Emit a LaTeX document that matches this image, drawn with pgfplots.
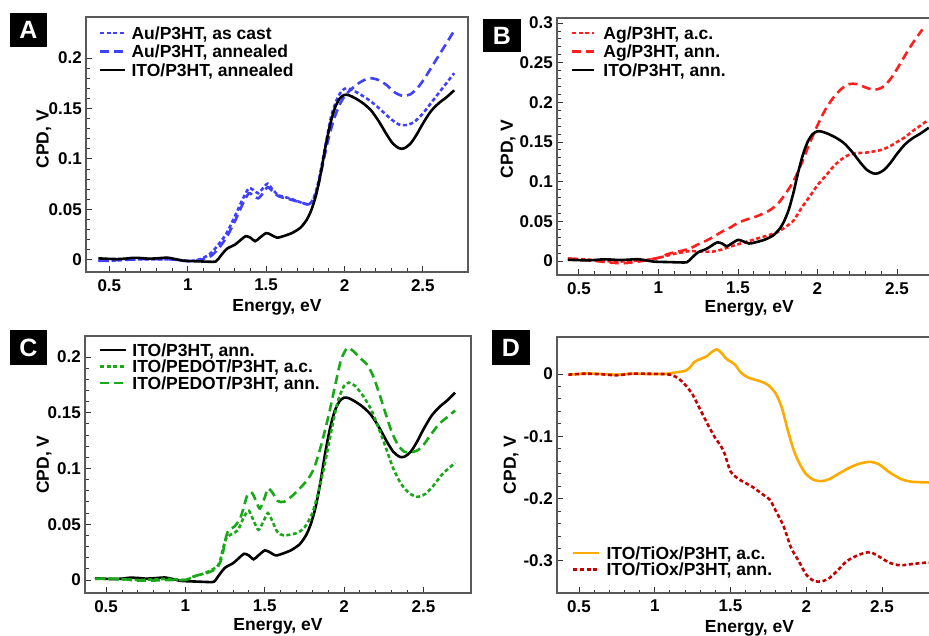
\documentclass[border=0pt]{standalone}
\usepackage{pgfplots}
\pgfplotsset{compat=1.18}
\usepackage{fontspec}
\setmainfont{Liberation Sans}
\definecolor{cblue}{RGB}{64,64,255}
\definecolor{cred}{RGB}{255,30,30}
\definecolor{cgreen}{RGB}{24,168,24}
\definecolor{corange}{RGB}{255,170,0}
\definecolor{cdred}{RGB}{196,0,0}
\definecolor{axgray}{RGB}{90,90,90}

\pgfplotstableread{
E V
0.43 0.0015
0.50 0.0010
0.55 0.0008
0.60 0.0012
0.65 0.0020
0.70 0.0018
0.75 0.0012
0.80 0.0015
0.87 0.0022
0.92 0.0008
0.97 -0.0008
1.02 -0.0012
1.08 -0.0015
1.13 -0.0018
1.18 -0.0015
1.21 0.0040
1.25 0.0110
1.30 0.0150
1.34 0.0200
1.37 0.0235
1.40 0.0220
1.43 0.0185
1.46 0.0220
1.50 0.0265
1.53 0.0250
1.57 0.0220
1.62 0.0240
1.67 0.0270
1.72 0.0320
1.76 0.0400
1.79 0.0500
1.82 0.0650
1.85 0.0870
1.88 0.1130
1.91 0.1350
1.94 0.1510
1.97 0.1600
2.00 0.1635
2.03 0.1630
2.07 0.1600
2.12 0.1550
2.17 0.1480
2.22 0.1370
2.27 0.1240
2.31 0.1150
2.35 0.1105
2.38 0.1105
2.42 0.1150
2.46 0.1240
2.50 0.1350
2.55 0.1470
2.60 0.1550
2.65 0.1610
2.70 0.1680
}\ito

\pgfplotstableread{
E V
0.43 -0.0010
0.50 -0.0008
0.60 0.0000
0.70 0.0005
0.80 0.0005
0.90 0.0005
1.00 -0.0010
1.05 -0.0005
1.10 0.0020
1.15 0.0070
1.20 0.0160
1.25 0.0270
1.30 0.0430
1.35 0.0600
1.39 0.0710
1.42 0.0690
1.45 0.0660
1.48 0.0710
1.51 0.0755
1.54 0.0700
1.58 0.0640
1.65 0.0610
1.72 0.0570
1.77 0.0550
1.80 0.0600
1.83 0.0750
1.86 0.0980
1.89 0.1230
1.92 0.1450
1.96 0.1620
2.00 0.1695
2.04 0.1690
2.10 0.1640
2.15 0.1590
2.20 0.1530
2.25 0.1460
2.30 0.1390
2.35 0.1340
2.39 0.1335
2.44 0.1360
2.50 0.1450
2.56 0.1570
2.63 0.1710
2.70 0.1850
}\auac

\pgfplotstableread{
E V
0.43 -0.0008
0.50 -0.0005
0.60 0.0000
0.70 0.0008
0.80 0.0008
0.90 0.0005
1.00 -0.0012
1.05 -0.0010
1.10 0.0010
1.15 0.0040
1.20 0.0120
1.25 0.0230
1.30 0.0380
1.35 0.0550
1.39 0.0660
1.42 0.0630
1.45 0.0610
1.48 0.0660
1.51 0.0720
1.54 0.0680
1.58 0.0630
1.65 0.0600
1.72 0.0570
1.77 0.0550
1.80 0.0590
1.83 0.0720
1.86 0.0930
1.89 0.1150
1.93 0.1380
1.97 0.1540
2.01 0.1640
2.05 0.1700
2.10 0.1760
2.16 0.1800
2.22 0.1780
2.27 0.1730
2.32 0.1660
2.37 0.1625
2.42 0.1640
2.47 0.1710
2.52 0.1820
2.58 0.1970
2.64 0.2120
2.70 0.2270
}\auann

\pgfplotstableread{
E V
0.43 0.0030
0.50 0.0025
0.60 0.0010
0.70 -0.0005
0.80 -0.0005
0.90 0.0010
0.95 0.0020
1.00 0.0040
1.05 0.0065
1.10 0.0090
1.15 0.0110
1.20 0.0125
1.25 0.0120
1.30 0.0115
1.35 0.0120
1.40 0.0145
1.45 0.0180
1.50 0.0210
1.55 0.0240
1.60 0.0270
1.65 0.0300
1.70 0.0330
1.75 0.0365
1.80 0.0430
1.85 0.0510
1.90 0.0670
1.95 0.0810
2.00 0.0955
2.05 0.1070
2.10 0.1190
2.15 0.1280
2.20 0.1340
2.25 0.1360
2.30 0.1365
2.35 0.1380
2.40 0.1400
2.45 0.1440
2.50 0.1500
2.55 0.1560
2.60 0.1640
2.65 0.1710
2.69 0.1770
}\agac

\pgfplotstableread{
E V
0.43 0.0030
0.50 0.0020
0.60 0.0000
0.70 -0.0020
0.77 -0.0030
0.85 -0.0015
0.90 0.0000
0.95 0.0020
1.00 0.0040
1.05 0.0080
1.10 0.0110
1.15 0.0130
1.20 0.0160
1.25 0.0210
1.30 0.0255
1.35 0.0310
1.40 0.0370
1.45 0.0420
1.50 0.0480
1.55 0.0520
1.60 0.0550
1.65 0.0590
1.70 0.0640
1.75 0.0720
1.80 0.0850
1.85 0.1010
1.90 0.1230
1.95 0.1480
2.00 0.1710
2.05 0.1910
2.10 0.2060
2.15 0.2170
2.20 0.2230
2.25 0.2230
2.30 0.2190
2.35 0.2160
2.40 0.2180
2.45 0.2270
2.50 0.2420
2.55 0.2590
2.60 0.2750
2.66 0.2920
}\agann

\pgfplotstableread{
E V
0.43 0.0010
0.50 0.0010
0.60 0.0005
0.70 0.0000
0.80 0.0005
0.90 0.0010
1.00 0.0000
1.05 0.0030
1.10 0.0050
1.15 0.0080
1.20 0.0120
1.22 0.0180
1.24 0.0300
1.26 0.0380
1.29 0.0410
1.33 0.0445
1.37 0.0570
1.40 0.0620
1.43 0.0530
1.46 0.0450
1.49 0.0520
1.52 0.0600
1.55 0.0520
1.58 0.0430
1.62 0.0400
1.70 0.0420
1.75 0.0470
1.80 0.0600
1.84 0.0800
1.88 0.1050
1.92 0.1340
1.96 0.1600
2.00 0.1740
2.03 0.1770
2.07 0.1740
2.12 0.1650
2.17 0.1530
2.21 0.1390
2.26 0.1200
2.31 0.1000
2.36 0.0860
2.41 0.0780
2.46 0.0745
2.51 0.0770
2.56 0.0840
2.62 0.0950
2.70 0.1050
}\pedac

\pgfplotstableread{
E V
0.43 0.0010
0.50 0.0012
0.60 0.0008
0.70 -0.0005
0.80 -0.0005
0.90 0.0000
1.00 0.0000
1.05 0.0030
1.10 0.0050
1.15 0.0070
1.20 0.0110
1.23 0.0200
1.25 0.0350
1.27 0.0440
1.31 0.0480
1.35 0.0570
1.39 0.0760
1.42 0.0780
1.45 0.0690
1.47 0.0640
1.50 0.0740
1.52 0.0820
1.55 0.0780
1.58 0.0710
1.62 0.0700
1.67 0.0750
1.72 0.0820
1.77 0.0900
1.81 0.1000
1.85 0.1180
1.90 0.1460
1.94 0.1720
1.98 0.1970
2.02 0.2080
2.06 0.2050
2.10 0.1990
2.14 0.1940
2.18 0.1840
2.22 0.1680
2.26 0.1500
2.30 0.1330
2.34 0.1210
2.38 0.1150
2.42 0.1145
2.46 0.1160
2.50 0.1210
2.55 0.1310
2.60 0.1400
2.65 0.1460
2.70 0.1520
}\pedann

\pgfplotstableread{
E V
0.43 -0.0010
0.50 0.0000
0.55 0.0010
0.65 0.0000
0.75 -0.0010
0.85 0.0005
0.95 0.0000
1.05 0.0000
1.10 0.0010
1.15 0.0030
1.20 0.0050
1.23 0.0100
1.26 0.0190
1.30 0.0240
1.34 0.0280
1.38 0.0360
1.41 0.0395
1.44 0.0340
1.47 0.0250
1.50 0.0200
1.53 0.0150
1.57 0.0020
1.62 -0.0060
1.70 -0.0120
1.75 -0.0180
1.80 -0.0320
1.84 -0.0550
1.88 -0.0920
1.92 -0.1240
1.96 -0.1460
2.00 -0.1610
2.05 -0.1700
2.10 -0.1720
2.15 -0.1690
2.20 -0.1620
2.28 -0.1510
2.35 -0.1440
2.42 -0.1410
2.48 -0.1450
2.55 -0.1580
2.63 -0.1690
2.70 -0.1730
2.80 -0.1740
2.90 -0.1750
}\tiac

\pgfplotstableread{
E V
0.43 -0.0010
0.50 0.0000
0.55 0.0005
0.65 -0.0005
0.75 -0.0020
0.85 0.0005
0.95 0.0005
1.05 0.0000
1.10 -0.0010
1.15 -0.0060
1.20 -0.0170
1.25 -0.0330
1.30 -0.0570
1.35 -0.0810
1.40 -0.1030
1.43 -0.1130
1.46 -0.1270
1.50 -0.1560
1.55 -0.1680
1.60 -0.1750
1.65 -0.1820
1.70 -0.1910
1.76 -0.2020
1.80 -0.2200
1.85 -0.2440
1.90 -0.2790
1.95 -0.3000
2.00 -0.3220
2.05 -0.3320
2.10 -0.3330
2.15 -0.3280
2.20 -0.3170
2.27 -0.3000
2.35 -0.2900
2.42 -0.2860
2.48 -0.2930
2.55 -0.3030
2.62 -0.3070
2.70 -0.3050
2.78 -0.3030
2.90 -0.3020
}\tiann

\pgfplotsset{
  panel/.style={
    scale only axis,
    axis line style={draw=axgray, line width=1.3pt},
    tick style={draw=black!80, line width=0.9pt},
    major tick length=6pt, minor tick length=3.5pt,
    tick align=inside,
    tick pos=left,
    xtick={0.5,1,1.5,2,2.5},
    minor x tick num=4,
    /pgf/number format/assume math mode=true,
    /pgf/number format/fixed,
    /pgf/number format/precision=2,
    tick label style={font=\bfseries\fontsize{17}{17}\selectfont},
    yticklabel style={inner sep=0pt, xshift=-4pt},
    xticklabel style={inner sep=0pt, yshift=-7pt},
    label style={font=\bfseries\fontsize{17.5}{17.5}\selectfont},
    xlabel={Energy, eV},
    ylabel={CPD, V},
    legend cell align=left,
    every axis plot/.append style={line width=2.6pt, smooth, tension=0.45},
  },
  dotp/.style={dash pattern=on 4pt off 2.6pt},
  dashp/.style={dash pattern=on 9pt off 5pt},
  legA/.style={legend style={draw=none, fill=none, inner sep=0pt, outer sep=0pt,
      row sep=6pt, column sep=5pt,
      font=\bfseries\fontsize{17.5}{17.5}\selectfont,
      nodes={inner sep=0pt, outer sep=0pt, text height=12.5pt, text depth=0pt}}},
  legC/.style={legend style={draw=none, fill=none, inner sep=0pt, outer sep=0pt,
      row sep=4pt, column sep=5pt,
      font=\bfseries\fontsize{17.5}{17.5}\selectfont,
      nodes={inner sep=0pt, outer sep=0pt, text height=12.5pt, text depth=0pt}}},
}

\begin{document}
\begin{tikzpicture}[x=1pt,y=1pt]
\useasboundingbox (0,0) rectangle (929,635);
\clip (0,0) rectangle (929,635);

% ---------------- Panel A
\begin{axis}[panel, legA,
  at={(86pt,363pt)}, anchor=south west,
  width=382pt, height=255pt,
  xmin=0.351, xmax=2.788, ymin=-0.012, ymax=0.2406,
  ytick={0,0.05,0.1,0.15,0.2}, minor y tick num=4,
  x label style={at={(axis description cs:0.5,0)}, anchor=north, inner sep=0pt, yshift=-27pt},
  y label style={at={(axis description cs:-0.110,0.52)}, anchor=center, inner sep=0pt},
  legend style={at={(axis description cs:0.034,0.962)}, anchor=north west},
  legend image code/.code={\draw[#1] (0pt,0pt) -- (25pt,0pt);},
]
\addplot[cblue, dotp] table[x=E,y=V] {\auac};
\addlegendentry{Au/P3HT, as cast}
\addplot[cblue, dashp] table[x=E,y=V] {\auann};
\addlegendentry{Au/P3HT, annealed}
\addplot[black] table[x=E,y=V] {\ito};
\addlegendentry{ITO/P3HT, annealed}
\end{axis}

% ---------------- Panel B
\begin{axis}[panel, legA,
  at={(557pt,360pt)}, anchor=south west,
  width=384.5pt, height=257pt,
  xmin=0.362, xmax=2.78, ymin=-0.0177, ymax=0.3064,
  ytick={0,0.05,0.1,0.15,0.2,0.25,0.3}, minor y tick num=4,
  x label style={at={(axis description cs:0.5,0)}, anchor=north, inner sep=0pt, yshift=-25pt},
  y label style={at={(axis description cs:-0.127,0.49)}, anchor=center, inner sep=0pt},
  legend style={at={(axis description cs:0.036,0.966)}, anchor=north west, column sep=8pt},
  legend image code/.code={\draw[#1] (0pt,0pt) -- (22pt,0pt);},
]
\addplot[cred, dotp] table[x=E,y=V] {\agac};
\addlegendentry{Ag/P3HT, a.c.}
\addplot[cred, dashp] table[x=E,y=V] {\agann};
\addlegendentry{Ag/P3HT, ann.}
\addplot[black] table[x=E,y=V] {\ito};
\addlegendentry{ITO/P3HT, ann.}
\end{axis}

% ---------------- Panel C
\begin{axis}[panel, legC,
  at={(85pt,42pt)}, anchor=south west,
  width=386pt, height=257pt,
  xmin=0.367, xmax=2.80, ymin=-0.0117, ymax=0.2188,
  ytick={0,0.05,0.1,0.15,0.2}, minor y tick num=4,
  x label style={at={(axis description cs:0.5,0)}, anchor=north, inner sep=0pt, yshift=-25pt},
  y label style={at={(axis description cs:-0.106,0.50)}, anchor=center, inner sep=0pt},
  legend style={at={(axis description cs:0.036,0.970)}, anchor=north west},
  legend image code/.code={\draw[#1] (0pt,0pt) -- (26pt,0pt);},
]
\addplot[black] table[x=E,y=V] {\ito};
\addlegendentry{ITO/P3HT, ann.}
\addplot[cgreen, dotp] table[x=E,y=V] {\pedac};
\addlegendentry{ITO/PEDOT/P3HT, a.c.}
\addplot[cgreen, dashp] table[x=E,y=V] {\pedann};
\addlegendentry{ITO/PEDOT/P3HT, ann.}
\end{axis}

% ---------------- Panel D
\begin{axis}[panel, legC,
  at={(557pt,42pt)}, anchor=south west,
  width=385pt, height=256pt,
  xmin=0.355, xmax=2.896, ymin=-0.3515, ymax=0.0594,
  ytick={-0.3,-0.2,-0.1,0}, minor y tick num=4,
  x label style={at={(axis description cs:0.5,0)}, anchor=north, inner sep=0pt, yshift=-27pt},
  y label style={at={(axis description cs:-0.119,0.50)}, anchor=center, inner sep=0pt},
  legend style={at={(axis description cs:0.039,0.181)}, anchor=north west, column sep=6pt},
  legend image code/.code={\draw[#1] (0pt,0pt) -- (26pt,0pt);},
]
\addplot[corange] table[x=E,y=V] {\tiac};
\addlegendentry{ITO/TiOx/P3HT, a.c.}
\addplot[cdred, dotp] table[x=E,y=V] {\tiann};
\addlegendentry{ITO/TiOx/P3HT, ann.}
\end{axis}

% panel letters
\tikzset{letter/.style={fill=black, text=white, inner sep=0pt, font=\bfseries\fontsize{25}{25}\selectfont}}
\node[letter, minimum width=37pt, minimum height=34pt] at (28.5,605) {A};
\node[letter, minimum width=38pt, minimum height=33pt] at (502,599.5) {B};
\node[letter, minimum width=37pt, minimum height=35pt] at (28.5,287.5) {C};
\node[letter, minimum width=38pt, minimum height=35pt] at (511,287.5) {D};
\end{tikzpicture}
\end{document}
